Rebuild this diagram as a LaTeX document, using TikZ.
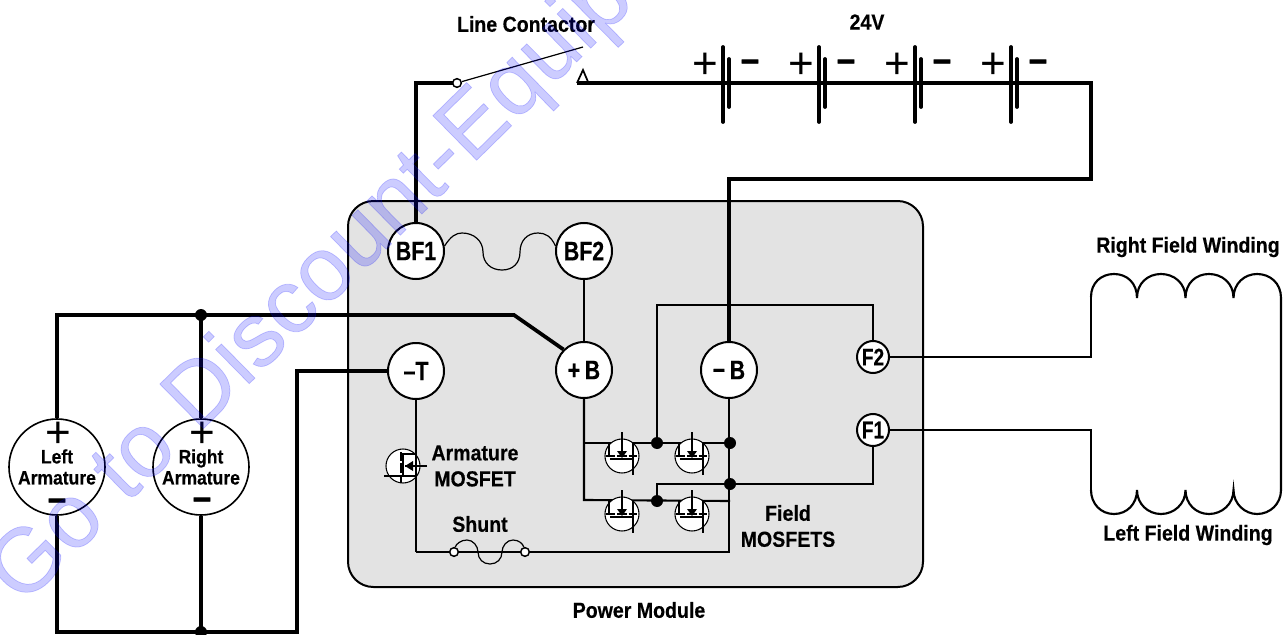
\documentclass[tikz,border=0pt]{standalone}
\usepackage{fontspec}
\setmainfont{Liberation Sans}
\newfontfamily\lab[FakeStretch=0.9,BoldFeatures={FakeBold=0.35}]{Liberation Sans}
\newfontfamily\labn[FakeStretch=0.8,BoldFeatures={FakeBold=0.35}]{Liberation Sans}
\newfontfamily\minusf[BoldFeatures={FakeBold=2.5}]{Liberation Sans}
\newfontfamily\wmf[FakeBold=0.8]{Liberation Sans}
\pgfdeclarelayer{panel}
\pgfdeclarelayer{wires}
\pgfsetlayers{panel,wires,main}
\definecolor{panelgray}{HTML}{E3E3E3}
\tikzset{
  thickw/.style={line width=2.8pt,line join=miter},
  medw/.style={line width=1.6pt},
  thinw/.style={line width=0.9pt},
  lbl/.style={font=\lab\bfseries\fontsize{16.3}{19.5}\selectfont,align=center,inner sep=0pt},
  term/.style={circle,draw,fill=white,line width=1.5pt,minimum size=42pt,inner sep=0pt,font=\labn\bfseries\fontsize{20}{20}\selectfont},
  smallterm/.style={circle,draw,fill=white,line width=1.5pt,minimum size=24pt,inner sep=0pt,font=\labn\bfseries\fontsize{18}{18}\selectfont},
  arm/.style={circle,draw,line width=1.2pt,minimum size=72pt,inner sep=0pt,align=center,font=\lab\bfseries\fontsize{14.6}{15.8}\selectfont},
  dot/.style={circle,fill=black,minimum size=9pt,inner sep=0pt},
  ring/.style={circle,draw,fill=white,line width=1.1pt,minimum size=6.5pt,inner sep=0pt},
  plussign/.style={font=\fontsize{33}{33}\selectfont,inner sep=0pt},
  minussign/.style={font=\minusf\bfseries\fontsize{24}{24}\selectfont,inner sep=0pt},
  fieldfet/.pic={
    \draw[fill=white,line width=.8pt] (0,0) circle (17);
    \draw[line width=1.4pt] (-13,-13) -- (-13,1);
    \draw[line width=1.4pt] (11,-13) -- (11,19);
    \draw[line width=1.4pt,dash pattern=on 7pt off 1.5pt] (-16,0) -- (15,0);
    \draw[line width=1.4pt] (-12,3) -- (11,3);
    \draw[line width=1.4pt] (0,-24) -- (0,-4);
    \fill (-5,-5) -- (5,-5) -- (0,2) -- cycle;
  }
}
\begin{document}
\begin{tikzpicture}[x=0.75pt,y=-0.75pt]
\useasboundingbox (0,0) rectangle (1283,635);
\begin{pgfonlayer}{panel}
\fill[white] (0,0) rectangle (1283,635);
\draw[fill=panelgray,line width=1.5pt,rounded corners=19pt] (348,201) rectangle (923,587);
\end{pgfonlayer}

\coordinate (swA) at (457,83);
\coordinate (swT) at (583,47);
\coordinate (contact) at (577,83);
\coordinate (busR) at (1091,83);
\coordinate (busD) at (1091,179);
\coordinate (bendP) at (514,315);
\coordinate (hub) at (201,315);
\coordinate (hubB) at (201,632);
\coordinate (retL) at (297,632);
\coordinate (shL) at (416,552);
\coordinate (shR) at (729,552);
\coordinate (up) at (657,305);
\coordinate (fetU) at (584,443);
\coordinate (fetL) at (584,500);
\coordinate (jUL) at (657,443);
\coordinate (jUR) at (730,443);
\coordinate (jM) at (730,484);
\coordinate (jLL) at (657,501);
\coordinate (fetLR) at (730,501);
\coordinate (cR) at (1091,297);
\coordinate (cL) at (1091,490);
\coordinate (coilR) at (1281,298);
\coordinate (coilB) at (1281,490);

\node[term] (BF1) at (416,251) {BF1};
\node[term] (BF2) at (584,251) {BF2};
\node[term] (pB) at (584,370) {+\,B};
\node[term] (mB) at (729,370) {−\,B};
\node[term] (mT) at (416,371) {–T};
\node[smallterm] (F2) at (873,357) {F2};
\node[smallterm] (F1) at (873,430) {F1};
\node[arm] (LA) at (57,467) {Left\\Armature};
\node[arm] (RA) at (201,467) {Right\\Armature};

\begin{pgfonlayer}{wires}
\draw[thickw] (BF1.north) |- (swA);
\draw[thickw] (contact) -- (busR) -- (busD) -| (mB.north);
\draw[thickw] (LA.north) |- (hub) -- (bendP) -- (pB.135);
\draw[thickw] (hub) -- (RA.north);
\draw[thickw] (LA.south) |- (hubB) -- (retL) |- (mT.west);
\draw[thickw] (RA.south) -- (hubB);
\draw[medw] (BF2.south) -- (pB.north);
\draw[medw] (pB.south) -- (fetL) -- (fetLR);
\draw[medw] (fetU) -- (jUR);
\draw[medw] (mB.south) -- (shR) -- (shL);
\draw[medw] (mT.south) -- (shL);
\draw[medw] (jUL) -- (up) -- (up -| F2) -- (F2.north);
\draw[medw] (jLL) |- (jM) -| (F1.south);
\draw[thinw] (BF1.10) .. controls (451,236) and (456,233) .. (462,233) .. controls (474,233) and (483,241) .. (483,252) .. controls (483,263) and (491,270) .. (502,270) .. controls (513,270) and (520,263) .. (520,252) .. controls (520,241) and (527,233) .. (538,233) .. controls (545,233) and (551,236) .. (BF2.170);
\draw[medw] (F2.east) -- (F2 -| cR) -- (cR);
\draw[medw] (F1.east) -- (F1 -| cL) -- (cL);
\draw[medw] (cR) .. controls (1091,283) and (1101,274) .. (1114,274) .. controls (1127,274) and (1137,283) .. (1137,298) .. controls (1137,283) and (1148,274) .. (1161,274) .. controls (1174,274) and (1185.5,283) .. (1185.5,298) .. controls (1185.5,283) and (1196,274) .. (1209,274) .. controls (1222,274) and (1233.5,283) .. (1233.5,298) .. controls (1233.5,283) and (1245,274) .. (1257,274) .. controls (1270,274) and (1281,283) .. (coilR) -- (coilB);
\draw[medw] (cL) .. controls (1091,504) and (1101,514) .. (1114,514) .. controls (1127,514) and (1137,504) .. (1137,490) .. controls (1137,504) and (1148,514) .. (1161,514) .. controls (1174,514) and (1185.5,504) .. (1185.5,490) .. controls (1185.5,504) and (1196,514) .. (1209,514) .. controls (1222,514) and (1233.5,504) .. (1233.5,490) .. controls (1233.5,504) and (1245,514) .. (1257,514) .. controls (1270,514) and (1281,504) .. (coilB);
\end{pgfonlayer}

% contactor
\node[ring] (ringA) at (swA) {};
\draw[thinw] (ringA) -- (swT);
\draw[line width=1.3pt,line join=miter] (577,83) -- (583,70) -- (588.5,83);

% batteries
\foreach \bx in {723,819,915,1011}{
  \draw[line width=2.8pt,line cap=round] (\bx,47) -- (\bx,122);
  \draw[line width=2.8pt,line cap=round] (\bx+6,59) -- (\bx+6,107);
}
\foreach \bx [count=\bi] in {705,801,897,993}{
  \node[plussign] (bp\bi) at (\bx,66) {+};
  \node[minussign] (bm\bi) at (\bx+45,66) {−};
}

% armature signs
\node[plussign] (lap) at (58,435) {+};
\node[plussign] (rap) at (202,435) {+};
\node[minussign] (lam) at (57,505) {−};
\node[minussign] (ram) at (202,504) {−};

\foreach \p in {hub,hubB,jUL,jUR,jM,jLL} \node[dot] at (\p) {};

% shunt
\node[ring] (sh1) at (454,552) {};
\node[ring] (sh2) at (525,552) {};
\draw[thinw] (sh1) .. controls (456,544) and (461,540) .. (467,540) .. controls (473,540) and (478,546) .. (478,552) .. controls (478,559) and (483,564) .. (490,564) .. controls (497,564) and (502,559) .. (502,552) .. controls (502,546) and (507,540) .. (513,540) .. controls (519,540) and (523,544) .. (sh2);

% armature mosfet
\draw[fill=white,line width=.8pt] (403,466) circle (17);
\draw[medw] (416,440) -- (416,500);
\draw[line width=1.3pt] (416,454) -- (403,454) -- (403,476) -- (416,476);
\draw[line width=1.3pt] (384,476) -- (403,476);
\draw[line width=1.3pt,dash pattern=on 7pt off 1.5pt] (401,452) -- (401,483);
\draw[line width=1.3pt] (427,466) -- (405,466);
\fill (405,466) -- (413,461) -- (413,471) -- cycle;

% field mosfets
\pic at (622,456) {fieldfet};
\pic at (692,456) {fieldfet};
\pic at (622,514) {fieldfet};
\pic at (692,514) {fieldfet};

% labels
\node[lbl] (tLC) at (526,24) {Line Contactor};
\node[lbl] (t24) at (867,22) {24V};
\node[lbl] (tRF) at (1188,247) {Right Field Winding};
\node[lbl] (tLF) at (1188,535) {Left Field Winding};
\node[lbl] (tPM) at (639,610) {Power Module};
\node[lbl] (tAM) at (475,466) {Armature\\MOSFET};
\node[lbl] (tSh) at (480,524) {Shunt};
\node[lbl] (tFM) at (788,526) {Field\\MOSFETS};

% watermark
\begin{scope}
\clip (0,0) rectangle (1283,635);
\node[rotate=44.5,anchor=base west,inner sep=0pt,text=blue,text opacity=.2,font=\wmf\fontsize{68}{68}\selectfont] (wm) at (22,607) {Go to Discount-Equipment.com};
\end{scope}
\end{tikzpicture}
\end{document}
